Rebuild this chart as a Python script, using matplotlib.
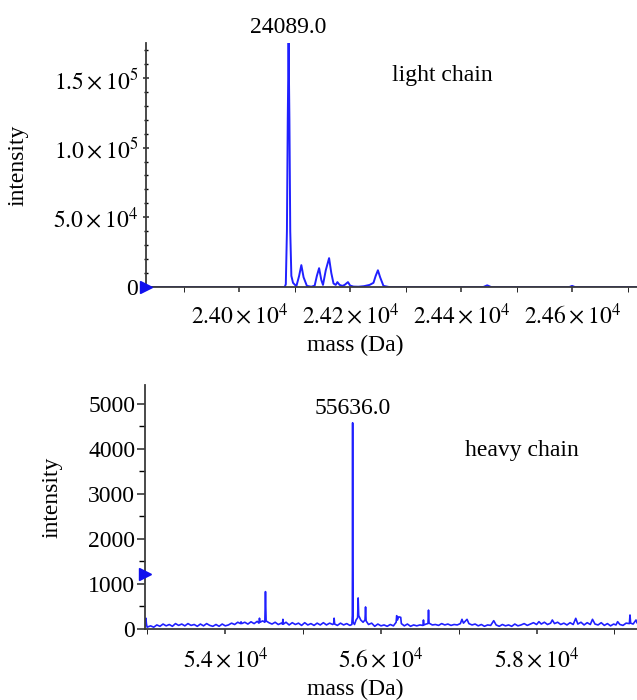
import matplotlib
matplotlib.use("Agg")
import matplotlib.pyplot as plt

plt.rcParams['font.family'] = ['Liberation Serif', 'DejaVu Serif']
plt.rcParams['mathtext.fontset'] = 'stix'
plt.rcParams['font.size'] = 17

# ---------------- data: light chain ----------------
light_mass = [23832, 24060, 24082, 24084, 24086, 24087.5, 24089, 24090.5, 24092, 24094,
              24097, 24103, 24108, 24112, 24116, 24122, 24130, 24136, 24140, 24144,
              24148, 24151, 24156, 24162, 24166, 24170, 24174, 24177, 24181, 24186,
              24190, 24193, 24196, 24200, 24206, 24215, 24225, 24235, 24242, 24246,
              24250, 24254, 24260, 24270, 24440, 24447, 24454, 24595, 24600, 24605,
              24717]
light_int = [0, 0, 0, 2000, 40000, 120000, 175000, 120000, 40000, 8000,
             3000, 500, 8000, 15700, 7000, 800, 200, 1000, 8000, 13500,
             5000, 1500, 12000, 20700, 10000, 2500, 1500, 3500, 1500, 800,
             1500, 2500, 3500, 1000, 300, 200, 600, 1500, 3000, 8000,
             12000, 7000, 800, 0, 0, 1200, 0, 0, 800, 0,
             0]

light_xticks = [24000, 24200, 24400, 24600]
light_xticklabels = [r'$2.40\times10^{4}$', r'$2.42\times10^{4}$',
                     r'$2.44\times10^{4}$', r'$2.46\times10^{4}$']
light_xminor = [23900, 24100, 24300, 24500, 24700]
light_yticks = [0, 50000, 100000, 150000]
light_yticklabels = ['0', r'$5.0\times10^{4}$', r'$1.0\times10^{5}$', r'$1.5\times10^{5}$']
light_yminor = [10000, 20000, 30000, 40000, 60000, 70000, 80000, 90000,
                110000, 120000, 130000, 140000, 160000, 170000]
light_peak_label = "24089.0"
light_peak_pos = (24089, 186000)
light_title = "light chain"
light_title_pos = (24276, 152000)
light_marker = (23832, 0)

# ---------------- data: heavy chain ----------------
heavy_mass = [
    52968, 52980, 52986, 52995, 53040, 53080, 53120, 53160, 53200, 53240,
    53280, 53320, 53360, 53400, 53440, 53480, 53520, 53560, 53600, 53640,
    53680, 53720, 53760, 53800, 53840, 53880, 53920, 53960, 54000, 54040,
    54080, 54120, 54160, 54195, 54202, 54210, 54250, 54290, 54330, 54370,
    54410, 54432, 54439, 54446, 54480, 54508, 54516, 54524, 54560, 54600,
    54640, 54680, 54720, 54734, 54740, 54747, 54780, 54820, 54860, 54900,
    54940, 54980, 55020, 55060, 55100, 55140, 55180, 55220, 55260, 55300,
    55340, 55380, 55392, 55398, 55405, 55440, 55480, 55520, 55560, 55600,
    55626, 55632, 55634, 55636, 55638, 55642, 55660, 55680, 55700, 55707,
    55714, 55740, 55770, 55795, 55802, 55809, 55840, 55880, 55920, 55960,
    56000, 56040, 56080, 56120, 56160, 56195, 56202, 56212, 56228, 56254,
    56262, 56300, 56340, 56380, 56420, 56460, 56500, 56540, 56546, 56553,
    56580, 56604, 56611, 56618, 56660, 56700, 56740, 56780, 56820, 56860,
    56900, 56940, 56980, 57020, 57041, 57060, 57106, 57130, 57170, 57210,
    57250, 57290, 57330, 57370, 57410, 57449, 57480, 57520, 57560, 57600,
    57640, 57680, 57720, 57760, 57800, 57840, 57880, 57920, 57960, 58000,
    58030, 58060, 58100, 58140, 58180, 58202, 58230, 58270, 58310, 58350,
    58390, 58430, 58470, 58503, 58530, 58570, 58610, 58650, 58690, 58718,
    58750, 58790, 58830, 58870, 58910, 58950, 58990, 59020, 59041, 59070,
    59110, 59150, 59192, 59200, 59208, 59240, 59277, 59290]
heavy_int = [
    60, 240, 120, 40, 70, 40, 90, 60, 110, 70,
    100, 60, 120, 80, 110, 70, 120, 80, 100, 60,
    110, 70, 120, 80, 60, 100, 60, 110, 70, 90,
    130, 100, 150, 120, 160, 120, 150, 110, 160, 120,
    170, 130, 240, 150, 180, 150, 830, 180, 140, 110,
    150, 100, 130, 110, 215, 110, 150, 90, 140, 100,
    130, 80, 140, 90, 120, 80, 130, 90, 140, 90,
    130, 100, 120, 240, 110, 80, 130, 90, 120, 80,
    100, 300, 1600, 4580, 1600, 150, 100, 200, 250, 690,
    300, 200, 150, 200, 490, 180, 100, 130, 60, 110,
    70, 90, 60, 100, 70, 150, 296, 200, 270, 259,
    120, 70, 110, 60, 90, 70, 90, 80, 200, 90,
    110, 120, 420, 130, 90, 100, 80, 120, 90, 110,
    80, 100, 90, 120, 215, 130, 215, 120, 90, 110,
    70, 100, 60, 90, 80, 185, 90, 60, 100, 70,
    90, 60, 110, 70, 90, 120, 80, 110, 140, 100,
    163, 110, 150, 100, 130, 200, 120, 150, 100, 130,
    90, 140, 100, 237, 110, 150, 90, 140, 100, 215,
    110, 90, 140, 80, 120, 70, 110, 90, 163, 100,
    80, 130, 120, 311, 130, 110, 200, 140]

heavy_xticks = [54000, 56000, 58000]
heavy_xticklabels = [r'$5.4\times10^{4}$', r'$5.6\times10^{4}$', r'$5.8\times10^{4}$']
heavy_xminor = [53000, 55000, 57000, 59000]
heavy_yticks = [0, 1000, 2000, 3000, 4000, 5000]
heavy_yticklabels = ['0', '1000', '2000', '3000', '4000', '5000']
heavy_yminor = [500, 1500, 2500, 3500, 4500]
heavy_peak_label = "55636.0"
heavy_peak_pos = (55636, 4890)
heavy_title = "heavy chain"
heavy_title_pos = (57084, 3956)
heavy_marker = (52968, 1220)

line_color = '#2020ff'
spine_color = '#3a3a3a'

fig = plt.figure(figsize=(6.37, 7.0), dpi=100)
ax1 = fig.add_axes([146 / 637, 1 - 287 / 700, 491 / 637, 244 / 700])
ax2 = fig.add_axes([145 / 637, 1 - 629 / 700, 492 / 637, 244 / 700])


def style(ax):
    for s in ('top', 'right'):
        ax.spines[s].set_visible(False)
    for s in ('left', 'bottom'):
        ax.spines[s].set_color(spine_color)
        ax.spines[s].set_linewidth(1.3)
    ax.tick_params(colors=spine_color, labelcolor='black', width=1.2)


# light chain panel
ax1.plot(light_mass, light_int, color=line_color, lw=1.4)
ax1.set_xlim(23832, 24717)
ax1.set_ylim(0, 175000)
ax1.set_xticks(light_xticks, labels=light_xticklabels)
ax1.set_xticks(light_xminor, minor=True)
ax1.set_yticks(light_yticks, labels=light_yticklabels)
ax1.set_yticks(light_yminor, minor=True)
style(ax1)
ax1.tick_params(axis='x', which='both', direction='out', length=3.6, pad=8)
ax1.tick_params(axis='y', which='major', direction='inout', length=5, pad=3)
ax1.tick_params(axis='y', which='minor', direction='inout', length=3.5, width=1.0)
ax1.set_xlabel('mass (Da)')
ax1.xaxis.set_label_coords(0.426, -0.195)
ax1.set_ylabel('intensity')
ax1.yaxis.set_label_coords(-0.24, 0.5)
ax1.text(*light_peak_pos, light_peak_label, ha='center', va='center', clip_on=False)
ax1.text(*light_title_pos, light_title, ha='left', va='center')
ax1.plot([light_marker[0]], [light_marker[1]], marker='>', color='#1010ee',
         markersize=8, clip_on=False, zorder=5)

# heavy chain panel
ax2.plot(heavy_mass, heavy_int, color=line_color, lw=1.2)
ax2.set_xlim(52968, 59290)
ax2.set_ylim(0, 5420)
ax2.set_xticks(heavy_xticks, labels=heavy_xticklabels)
ax2.set_xticks(heavy_xminor, minor=True)
ax2.set_yticks(heavy_yticks, labels=heavy_yticklabels)
ax2.set_yticks(heavy_yminor, minor=True)
style(ax2)
ax2.tick_params(axis='x', which='both', direction='out', length=3.6, pad=9)
ax2.tick_params(axis='y', which='major', direction='out', length=6, pad=1)
ax2.tick_params(axis='y', which='minor', direction='out', length=4, width=1.0)
ax2.set_xlabel('mass (Da)')
ax2.xaxis.set_label_coords(0.427, -0.205)
ax2.set_ylabel('intensity')
ax2.yaxis.set_label_coords(-0.168, 0.54)
ax2.text(*heavy_peak_pos, heavy_peak_label, ha='center', va='center')
ax2.text(*heavy_title_pos, heavy_title, ha='left', va='center')
ax2.plot([heavy_marker[0]], [heavy_marker[1]], marker='>', color='#1010ee',
         markersize=8, clip_on=False, zorder=5)

fig.savefig('out.png', dpi=100)
